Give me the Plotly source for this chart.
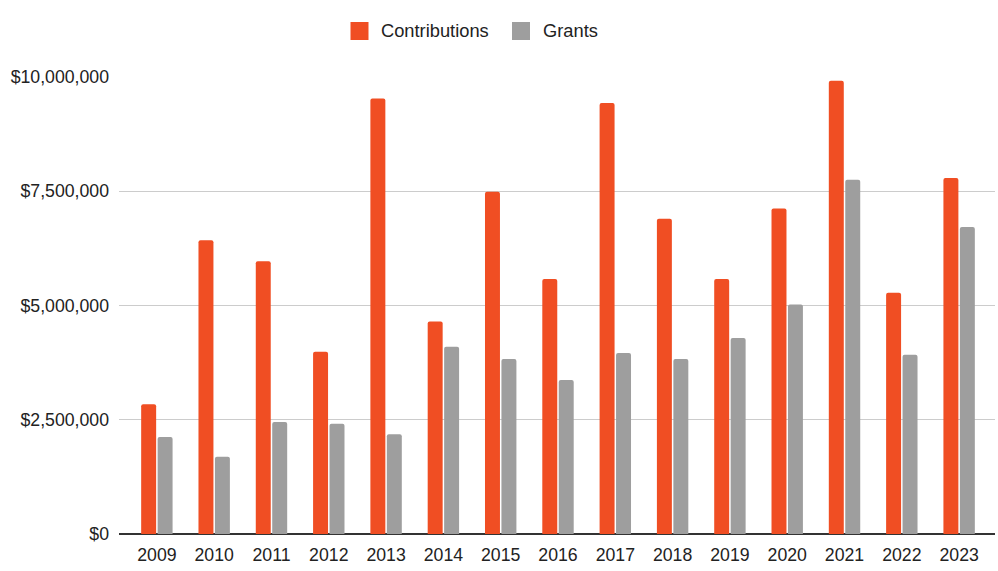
import plotly.graph_objects as go

years = ["2009", "2010", "2011", "2012", "2013", "2014", "2015", "2016",
         "2017", "2018", "2019", "2020", "2021", "2022", "2023"]
contributions = [2840000, 6430000, 5970000, 3990000, 9530000, 4650000, 7490000, 5580000,
                 9430000, 6900000, 5580000, 7120000, 9920000, 5280000, 7790000]
grants = [2120000, 1690000, 2450000, 2410000, 2180000, 4100000, 3830000, 3370000,
          3960000, 3830000, 4290000, 5020000, 7750000, 3920000, 6720000]
y_ticks = [0, 2500000, 5000000, 7500000, 10000000]
y_tick_labels = ["$0", "$2,500,000", "$5,000,000", "$7,500,000", "$10,000,000"]

ORANGE = "#F04E23"
GRAY = "#9E9E9E"
TEXT = "#222222"
FONT = "Arial, Liberation Sans, sans-serif"

W, H = 998, 571
L, R, T, B = 119, 3, 77, 37
PW, PH = W - L - R, H - T - B


def px_x(p):
    """Pixel column -> paper x."""
    return (p - L) / PW


def px_y(p):
    """Pixel row -> paper y."""
    return (H - B - p) / PH


fig = go.Figure()
fig.add_trace(go.Bar(name="Contributions", x=years, y=contributions,
                     marker=dict(color=ORANGE, line=dict(width=0))))
fig.add_trace(go.Bar(name="Grants", x=years, y=grants,
                     marker=dict(color=GRAY, line=dict(width=0))))

# Legend drawn as square swatches with labels above the plot
legend_items = [("Contributions", ORANGE, 350.5, 381), ("Grants", GRAY, 512, 543)]
shapes, annotations = [], []
for label, color, sq_left, text_left in legend_items:
    shapes.append(dict(type="rect", xref="paper", yref="paper",
                       x0=px_x(sq_left), x1=px_x(sq_left + 18),
                       y0=px_y(40), y1=px_y(22),
                       fillcolor=color, line=dict(width=0), layer="above"))
    annotations.append(dict(text=label, xref="paper", yref="paper",
                            x=px_x(text_left - 2), y=px_y(31),
                            xanchor="left", yanchor="middle", showarrow=False,
                            font=dict(size=18.3, color=TEXT, family=FONT)))

fig.update_layout(
    width=W, height=H,
    margin=dict(l=L, r=R, t=T, b=B, pad=0),
    paper_bgcolor="white", plot_bgcolor="white",
    barmode="group", bargap=0.426, bargroupgap=0.09,
    barcornerradius=2,
    font=dict(family=FONT, size=17.7, color=TEXT),
    showlegend=False,
    shapes=shapes, annotations=annotations,
    xaxis=dict(type="category", range=[-0.661, 14.626], showgrid=False,
               showline=False, ticks="", tickfont=dict(size=17.7, color=TEXT),
               ticklabelstandoff=8, fixedrange=True),
    yaxis=dict(range=[0, 10000000], tickvals=y_ticks, ticktext=y_tick_labels,
               showgrid=True, gridcolor="#CCCCCC", gridwidth=1,
               zeroline=True, zerolinecolor="#333333", zerolinewidth=1.5,
               showline=False, ticks="", ticklabelstandoff=9,
               tickfont=dict(size=17.7, color=TEXT), fixedrange=True),
)

fig.write_html("out.html", config={"displayModeBar": False})
